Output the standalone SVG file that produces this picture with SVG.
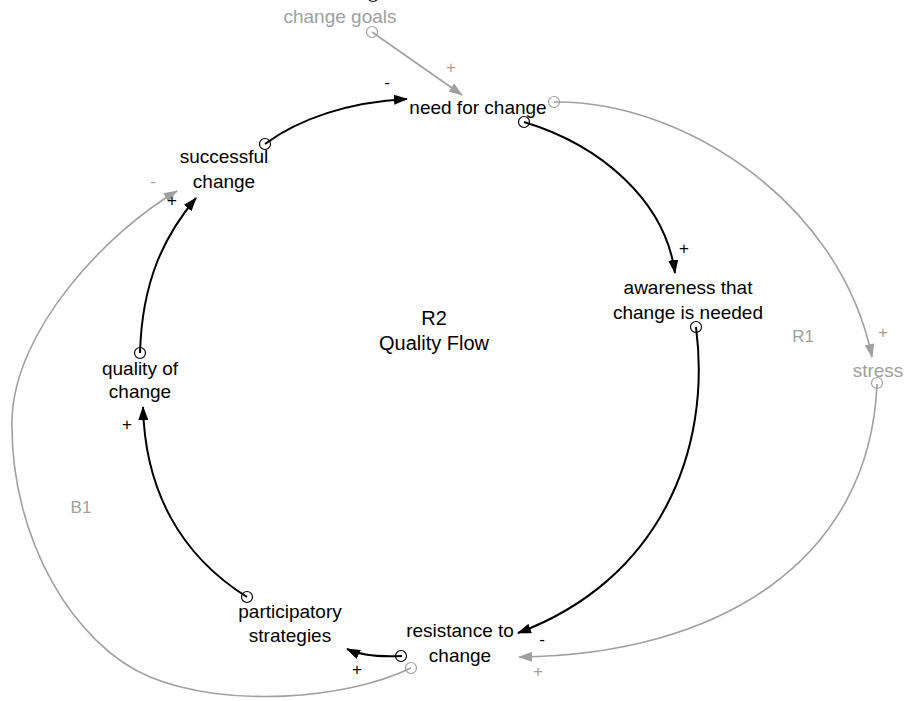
<svg xmlns="http://www.w3.org/2000/svg" width="906" height="701" viewBox="0 0 906 701">
<style>
.t{font-family:"Liberation Sans",Arial,sans-serif;font-size:19px;fill:#000;text-anchor:middle}
.g{fill:#a0a0a0}
.lbl{font-family:"Liberation Sans",Arial,sans-serif;font-size:17px;fill:#a0a0a0;text-anchor:middle}
.pol{font-family:"Liberation Sans",Arial,sans-serif;font-size:17px;text-anchor:middle}
.lk{fill:none;stroke:#000;stroke-width:2;marker-end:url(#ab)}
.lkg{fill:none;stroke:#a0a0a0;stroke-width:1.6;marker-end:url(#ag)}
.c{fill:none;stroke:#000;stroke-width:1.2}
.cg{fill:none;stroke:#a0a0a0;stroke-width:1.2}
</style>
<defs>
<marker id="ab" viewBox="0 0 14 10" refX="13" refY="5" markerWidth="14" markerHeight="10" markerUnits="userSpaceOnUse" orient="auto"><path d="M0,0 L14,5 L0,10 Z" fill="#000"/></marker>
<marker id="ag" viewBox="0 0 14 10" refX="13" refY="5" markerWidth="14" markerHeight="10" markerUnits="userSpaceOnUse" orient="auto"><path d="M0,0 L14,5 L0,10 Z" fill="#a0a0a0"/></marker>
</defs>
<rect width="906" height="701" fill="#fff"/>
<g id="connectors">
<circle class="c" cx="373" cy="-4" r="5.5"/>
<path class="lkg" d="M372,32 L462,95"/>
<path class="lk" d="M265,144 C300,118 350,102 407,99"/>
<path class="lk" d="M524,122 C600,145 665,200 675,273"/>
<path class="lkg" d="M554,102 C680,100 840,200 872,357"/>
<path class="lk" d="M696,327 C712,450 660,580 518,633"/>
<path class="lkg" d="M877,384 C870,560 720,655 519,657"/>
<path class="lk" d="M402,656 C380,657 362,656 347,649"/>
<path class="lkg" d="M411,668 C345,700 225,708 150,677 C75,646 10,540 12,420 C14,330 107,232 177,191"/>
<path class="lk" d="M247,597 C180,555 145,490 143,407"/>
<path class="lk" d="M140,353 C142,280 165,235 196,198"/>
<circle class="cg" cx="372" cy="32" r="5.5"/>
<circle class="c" cx="265" cy="144" r="5.5"/>
<circle class="c" cx="524" cy="122" r="5.5"/>
<circle class="cg" cx="554" cy="102" r="5.5"/>
<circle class="c" cx="696" cy="327" r="5.5"/>
<circle class="cg" cx="877" cy="383" r="5.5"/>
<circle class="c" cx="401" cy="656" r="5.5"/>
<circle class="cg" cx="411" cy="668" r="5.5"/>
<circle class="c" cx="247" cy="597" r="5.5"/>
<circle class="c" cx="140" cy="353" r="5.5"/>
<text class="pol g" x="451" y="73">+</text>
<text class="pol" x="387" y="88">-</text>
<text class="pol" x="684" y="254">+</text>
<text class="pol g" x="883" y="338">+</text>
<text class="pol" x="542" y="645">-</text>
<text class="pol g" x="538" y="677">+</text>
<text class="pol" x="357" y="675">+</text>
<text class="pol g" x="153" y="187">-</text>
<text class="pol" x="172" y="206">+</text>
<text class="pol" x="127" y="430">+</text>
</g>
<g id="change-goals"><text class="t g" x="340" y="23">change goals</text></g>
<g id="need-for-change"><text class="t" x="478" y="114">need for change</text></g>
<g id="successful-change"><text class="t" x="224" y="163">successful</text><text class="t" x="224" y="188">change</text></g>
<g id="awareness"><text class="t" x="688" y="294">awareness that</text><text class="t" x="688" y="319">change is needed</text></g>
<g id="stress"><text class="t g" x="878" y="377">stress</text></g>
<g id="quality-of-change"><text class="t" x="140" y="375">quality of</text><text class="t" x="140" y="398">change</text></g>
<g id="participatory-strategies"><text class="t" x="290" y="618">participatory</text><text class="t" x="290" y="642">strategies</text></g>
<g id="resistance-to-change"><text class="t" x="460" y="637">resistance to</text><text class="t" x="460" y="662">change</text></g>
<g id="loop-r2"><text class="t" x="434" y="325" style="font-size:20px">R2</text><text class="t" x="434" y="350" style="font-size:20px">Quality Flow</text></g>
<g id="loop-r1"><text class="lbl" x="803" y="342">R1</text></g>
<g id="loop-b1"><text class="lbl" x="81" y="513">B1</text></g>
</svg>
